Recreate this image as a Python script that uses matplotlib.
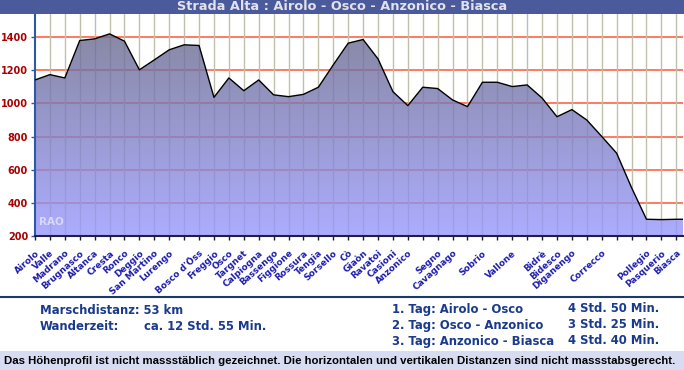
import numpy as np
import matplotlib.pyplot as plt
from matplotlib.patches import Rectangle, Polygon
from matplotlib.lines import Line2D
from matplotlib.colors import LinearSegmentedColormap

# Höhenprofil: Ortschaften (leere Einträge = Stützpunkte ohne Namen)
orte = ['Airolo', 'Valle', 'Madrano', 'Brugnasco', 'Altanca', 'Cresta', 'Ronco',
        'Deggio', 'San Martino', 'Lurengo', '', "Bosco d'Öss", 'Freggio', 'Osco',
        'Targnet', 'Calpiogna', 'Bassengo', 'Figgione', 'Rossura', 'Tengia',
        'Sorsello', 'Cò', 'Giaòn', 'Ravatoi', 'Casioni', 'Anzonico', '', 'Segno',
        'Cavagnago', '', 'Sobrio', '', 'Vallone', '', 'Bidrè', 'Bidesco',
        'Diganengo', '', 'Correcco', '', '', 'Pollegio', 'Pasquerio', 'Biasca']
hoehe = [1142, 1174, 1154, 1380, 1390, 1420, 1376, 1203, 1263, 1324, 1354,
         1350, 1037, 1154, 1077, 1142, 1052, 1041, 1055, 1098, 1233, 1364,
         1386, 1269, 1071, 987, 1098, 1090, 1021, 981, 1128, 1128, 1102, 1112,
         1033, 920, 963, 900, 801, 700, 492, 301, 299, 301]
y_ticks = [200, 400, 600, 800, 1000, 1200, 1400]

titel = 'Strada Alta : Airolo - Osco - Anzonico - Biasca'
etappen = ['1. Tag: Airolo - Osco', '2. Tag: Osco - Anzonico', '3. Tag: Anzonico - Biasca']
zeiten = ['4 Std. 50 Min.', '3 Std. 25 Min.', '4 Std. 40 Min.']
hinweis = ('Das Höhenprofil ist nicht massstäblich gezeichnet. '
           'Die horizontalen und vertikalen Distanzen sind nicht massstabsgerecht.')

W, H = 684, 370
fig = plt.figure(figsize=(W / 100, H / 100), dpi=100)
fig.patch.set_facecolor('white')

def fx(px):
    return px / W

def fy(py):
    return 1 - py / H

ax = fig.add_axes([fx(35), fy(236), fx(683) - fx(35), fy(14) - fy(236)])
x = np.arange(len(hoehe))
ymin, ymax = 200, 1540
xmax = len(hoehe) - 1 + 0.45   # etwas Platz rechts für die letzte Beschriftung
ax.set_xlim(0, xmax)
ax.set_ylim(ymin, ymax)

# Gitter
for yt in y_ticks[1:]:
    ax.axhline(yt, color='#ff7050', lw=1.3, zorder=1)
for xi in x[1:]:
    ax.axvline(xi, color='#c0c0aa', lw=1.0, zorder=1)

# Fläche mit Farbverlauf (bis zum rechten Rand weitergeführt)
px_ = np.r_[x, xmax]
py_ = np.r_[hoehe, hoehe[-1]]
cmap = LinearSegmentedColormap.from_list('prof', ['#9898ff', '#6a6a8e'])
grad = np.linspace(0, 1, 256).reshape(-1, 1)
img = ax.imshow(grad, aspect='auto', cmap=cmap, origin='lower',
                extent=[0, xmax, ymin, 1440], alpha=0.8, zorder=2)
poly = Polygon(np.column_stack([np.r_[px_[0], px_, px_[-1]],
                                np.r_[ymin, py_, ymin]]),
               closed=True, facecolor='none', edgecolor='none')
ax.add_patch(poly)
img.set_clip_path(poly)
ax.set_xlim(0, xmax)
ax.set_ylim(ymin, ymax)
ax.plot(px_, py_, color='black', lw=1.0, zorder=3)

ax.text(0.25, 265, 'RAO', color='#d8d8ff', fontsize=7.5, fontweight='bold',
        family='DejaVu Sans', zorder=4)

# Achsen
for s in ['top', 'right']:
    ax.spines[s].set_visible(False)
ax.spines['left'].set_color('#2a5aa8')
ax.spines['left'].set_linewidth(1.5)
ax.spines['bottom'].set_color('#202040')
ax.spines['bottom'].set_linewidth(1.5)
ax.set_yticks(y_ticks)
ax.set_yticklabels([str(v) for v in y_ticks], color='#aa0000',
                   fontsize=7, fontweight='bold', family='DejaVu Sans')
ax.tick_params(axis='y', length=3, width=1, color='#2a5aa8', pad=2)
ax.set_xticks(x)
ax.set_xticklabels(orte, rotation=42, ha='right', va='top',
                   rotation_mode='anchor', color='#1c1cb0', fontsize=6.4,
                   fontweight='bold', family='DejaVu Sans')
ax.tick_params(axis='x', length=3, width=1, color='#202020', pad=6)

# Titelleiste
fig.patches.append(Rectangle((0, fy(14)), 1, 14 / H, transform=fig.transFigure,
                             facecolor='#4b5a9a', edgecolor='none'))
fig.text(0.5, fy(7), titel, ha='center', va='center', color='#e2e2ee',
         fontsize=9.3, fontweight='bold', family='DejaVu Sans')

# Trennlinie und Angaben
fig.lines.append(Line2D([0, 1], [fy(297), fy(297)], transform=fig.transFigure,
                        color='#1a3a6a', lw=1.5))
blau = '#1a3a8c'
info = dict(color=blau, fontsize=8.4, fontweight='bold', family='DejaVu Sans',
            va='center')
fig.text(fx(40), fy(310), 'Marschdistanz: 53 km', **info)
fig.text(fx(40), fy(326), 'Wanderzeit:', **info)
fig.text(fx(144), fy(326), 'ca. 12 Std. 55 Min.', **info)
for i, (e, z) in enumerate(zip(etappen, zeiten)):
    fig.text(fx(392), fy(309 + 16 * i), e, **info)
    fig.text(fx(568), fy(309 + 16 * i), z, **info)

# Fusszeile
fig.patches.append(Rectangle((0, 0), 1, 19 / H, transform=fig.transFigure,
                             facecolor='#d8dcf2', edgecolor='none'))
fig.text(fx(4), fy(361), hinweis, ha='left', va='center', color='black',
         fontsize=8.2, fontweight='bold', family='Liberation Sans')

fig.savefig('out.png', dpi=100)
